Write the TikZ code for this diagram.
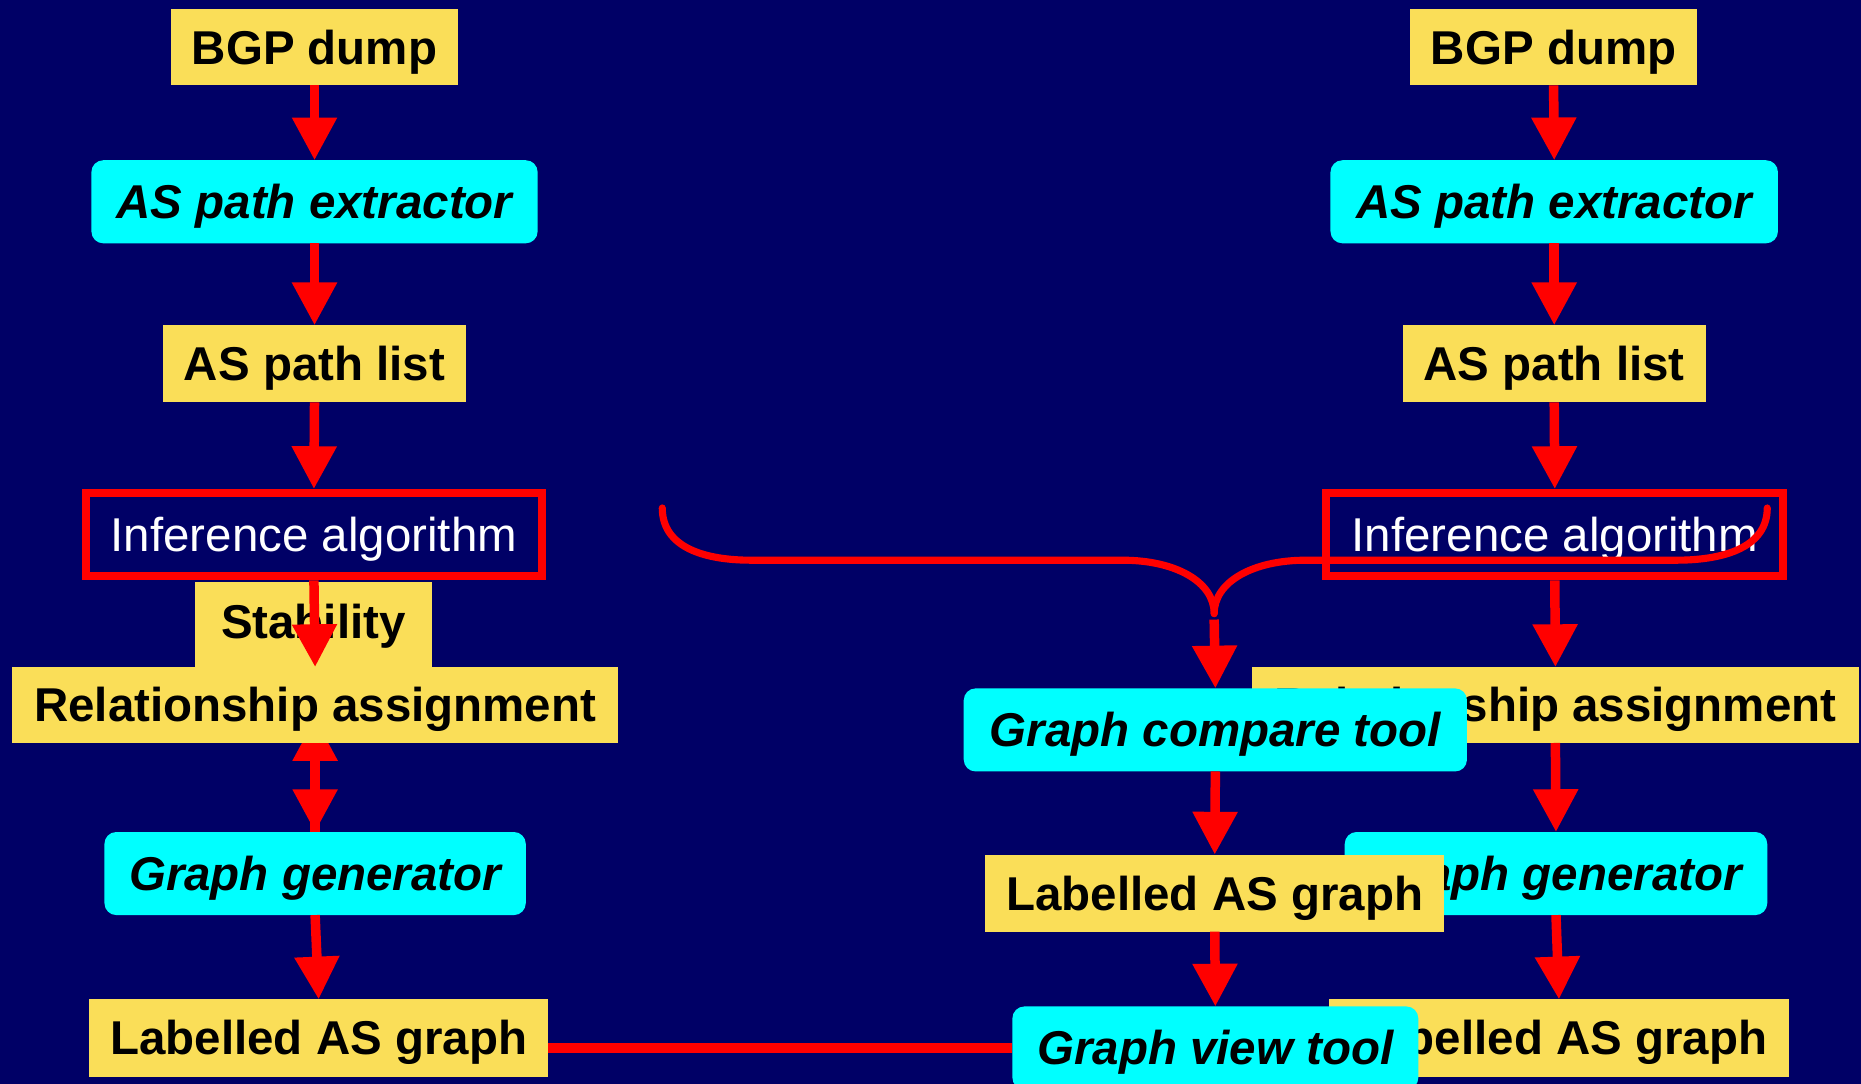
\documentclass[tikz,border=0pt]{standalone}
\usepackage{fontspec}
\setmainfont{Liberation Sans}
\usetikzlibrary{arrows.meta,calc}

\definecolor{navy}{RGB}{0,0,102}
\definecolor{boxyellow}{RGB}{250,222,88}
\definecolor{toolcyan}{RGB}{0,255,255}
\definecolor{flowred}{RGB}{255,0,0}

\pgfdeclarelayer{back}
\pgfsetlayers{back,main}

\tikzset{
  databox/.style={fill=boxyellow, text=black, inner sep=0pt, outer sep=0pt,
    text height=28.6pt, text depth=0pt, anchor=center,
    font=\bfseries\fontsize{40}{48}\selectfont},
  toolbox/.style={fill=toolcyan, text=black, inner sep=0pt, outer sep=0pt,
    rounded corners=10pt, text height=28.6pt, text depth=0pt, anchor=center,
    font=\bfseries\itshape\fontsize{40}{48}\selectfont},
  algobox/.style={draw=flowred, line width=7pt, fill=navy, text=white,
    inner sep=0pt, text height=28.6pt, text depth=0pt, anchor=center,
    minimum width=384pt, minimum height=70pt,
    font=\fontsize{40}{48}\selectfont},
  flow/.style={draw=flowred, line width=8pt, -{Triangle[length=36pt,width=36pt]}},
  joinline/.style={draw=flowred, line width=8pt},
  brace/.style={draw=flowred, line width=6pt, line cap=round},
}

\begin{document}
\begin{tikzpicture}[x=1pt,y=-1pt]
\useasboundingbox (0,0) rectangle (1568,913);
\begin{pgfonlayer}{back}
  \fill[navy] (0,0) rectangle (1568,913);
\end{pgfonlayer}

% ---------- left chain ----------
\node[databox, minimum width=242pt, minimum height=64pt] (bgp1) at (265,40) {BGP dump};
\node[toolbox, minimum width=376pt, minimum height=70pt] (ext1) at (265,170) {AS path extractor};
\node[databox, minimum width=256pt, minimum height=65pt] (list1) at (265,306.5) {AS path list};
\node[algobox] (inf1) at (264.5,450.5) {Inference algorithm};
\node[databox, minimum width=511pt, minimum height=64pt] (ra1) at (265.5,594) {Relationship assignment};
\node[toolbox, minimum width=355pt, minimum height=70pt] (gg1) at (265.5,736) {Graph generator};
\node[databox, minimum width=387pt, minimum height=65pt] (lab1) at (268.5,874.5) {Labelled AS graph};

% stability box and the return arrow sit behind the assignment box
\begin{pgfonlayer}{back}
  \node[databox, minimum width=200pt, minimum height=80pt] (stab1) at (264,530) {};
  \node[text=black, font=\bfseries\fontsize{40}{48}\selectfont, inner sep=0pt,
        text height=28.6pt, text depth=0pt] (stabtext) at (264,524) {Stability};
  \draw[flow] (gg1.north) -- ($(ra1.center)+(0,11)$);
\end{pgfonlayer}

\draw[flow] (bgp1.south) -- (ext1.north);
\draw[flow] (ext1.south) -- (list1.north);
\draw[flow] (list1.south) -- (inf1.north);
\draw[flow] (inf1.south) -- (ra1.north);
\draw[flow] (ra1.south) -- (gg1.north);
\draw[flow] (gg1.south) -- (lab1.north);

% ---------- right chain ----------
\node[databox, minimum width=242pt, minimum height=64pt] (bgp2) at (1309,40) {BGP dump};
\node[toolbox, minimum width=377pt, minimum height=70pt] (ext2) at (1309.5,170) {AS path extractor};
\node[databox, minimum width=255pt, minimum height=65pt] (list2) at (1309.5,306.5) {AS path list};
\node[algobox, minimum width=385pt] (inf2) at (1310,450.5) {Inference algorithm};
\node[databox, minimum width=511pt, minimum height=64pt] (ra2) at (1310.5,594) {Relationship assignment};
\node[toolbox, minimum width=356pt, minimum height=70pt] (gg2) at (1311,736) {Graph generator};
\node[databox, minimum width=387pt, minimum height=65pt] (lab2) at (1313.5,874.5) {Labelled AS graph};

\draw[flow] (bgp2.south) -- (ext2.north);
\draw[flow] (ext2.south) -- (list2.north);
\draw[flow] (list2.south) -- (inf2.north);
\draw[flow] (inf2.south) -- (ra2.north);
\draw[flow] (ra2.south) -- (gg2.north);
\draw[flow] (gg2.south) -- (lab2.north);

% ---------- brace merging both inference results ----------
\coordinate (braceL) at (558,428);
\coordinate (braceR) at (1489,428);
\coordinate (cusp) at (1023,517);
\coordinate (mergeStart) at (1023,522);
\draw[brace] (braceL) .. controls (558,462) and (595,472) .. (633,472)
  -- (946,472) .. controls (990,472) and (1023,490) .. (cusp);
\draw[brace] (cusp) .. controls (1023,490) and (1056,472) .. (1100,472)
  -- (1412,472) .. controls (1455,472) and (1489,460) .. (braceR);

% ---------- comparison chain ----------
\node[toolbox, minimum width=424pt, minimum height=70pt] (gc) at (1024,615) {Graph compare tool};
\node[databox, minimum width=387pt, minimum height=65pt] (lab3) at (1023.5,752.5) {Labelled AS graph};
\node[toolbox, minimum width=342pt, minimum height=70pt] (gv) at (1024,883) {Graph view tool};

\draw[flow] (mergeStart) -- (gc.north);
\draw[flow] (gc.south) -- (lab3.north);
\draw[flow] (lab3.south) -- (gv.north);
\draw[joinline] (gv.west -| lab1.east) -- (gv.west);
\end{tikzpicture}
\end{document}
